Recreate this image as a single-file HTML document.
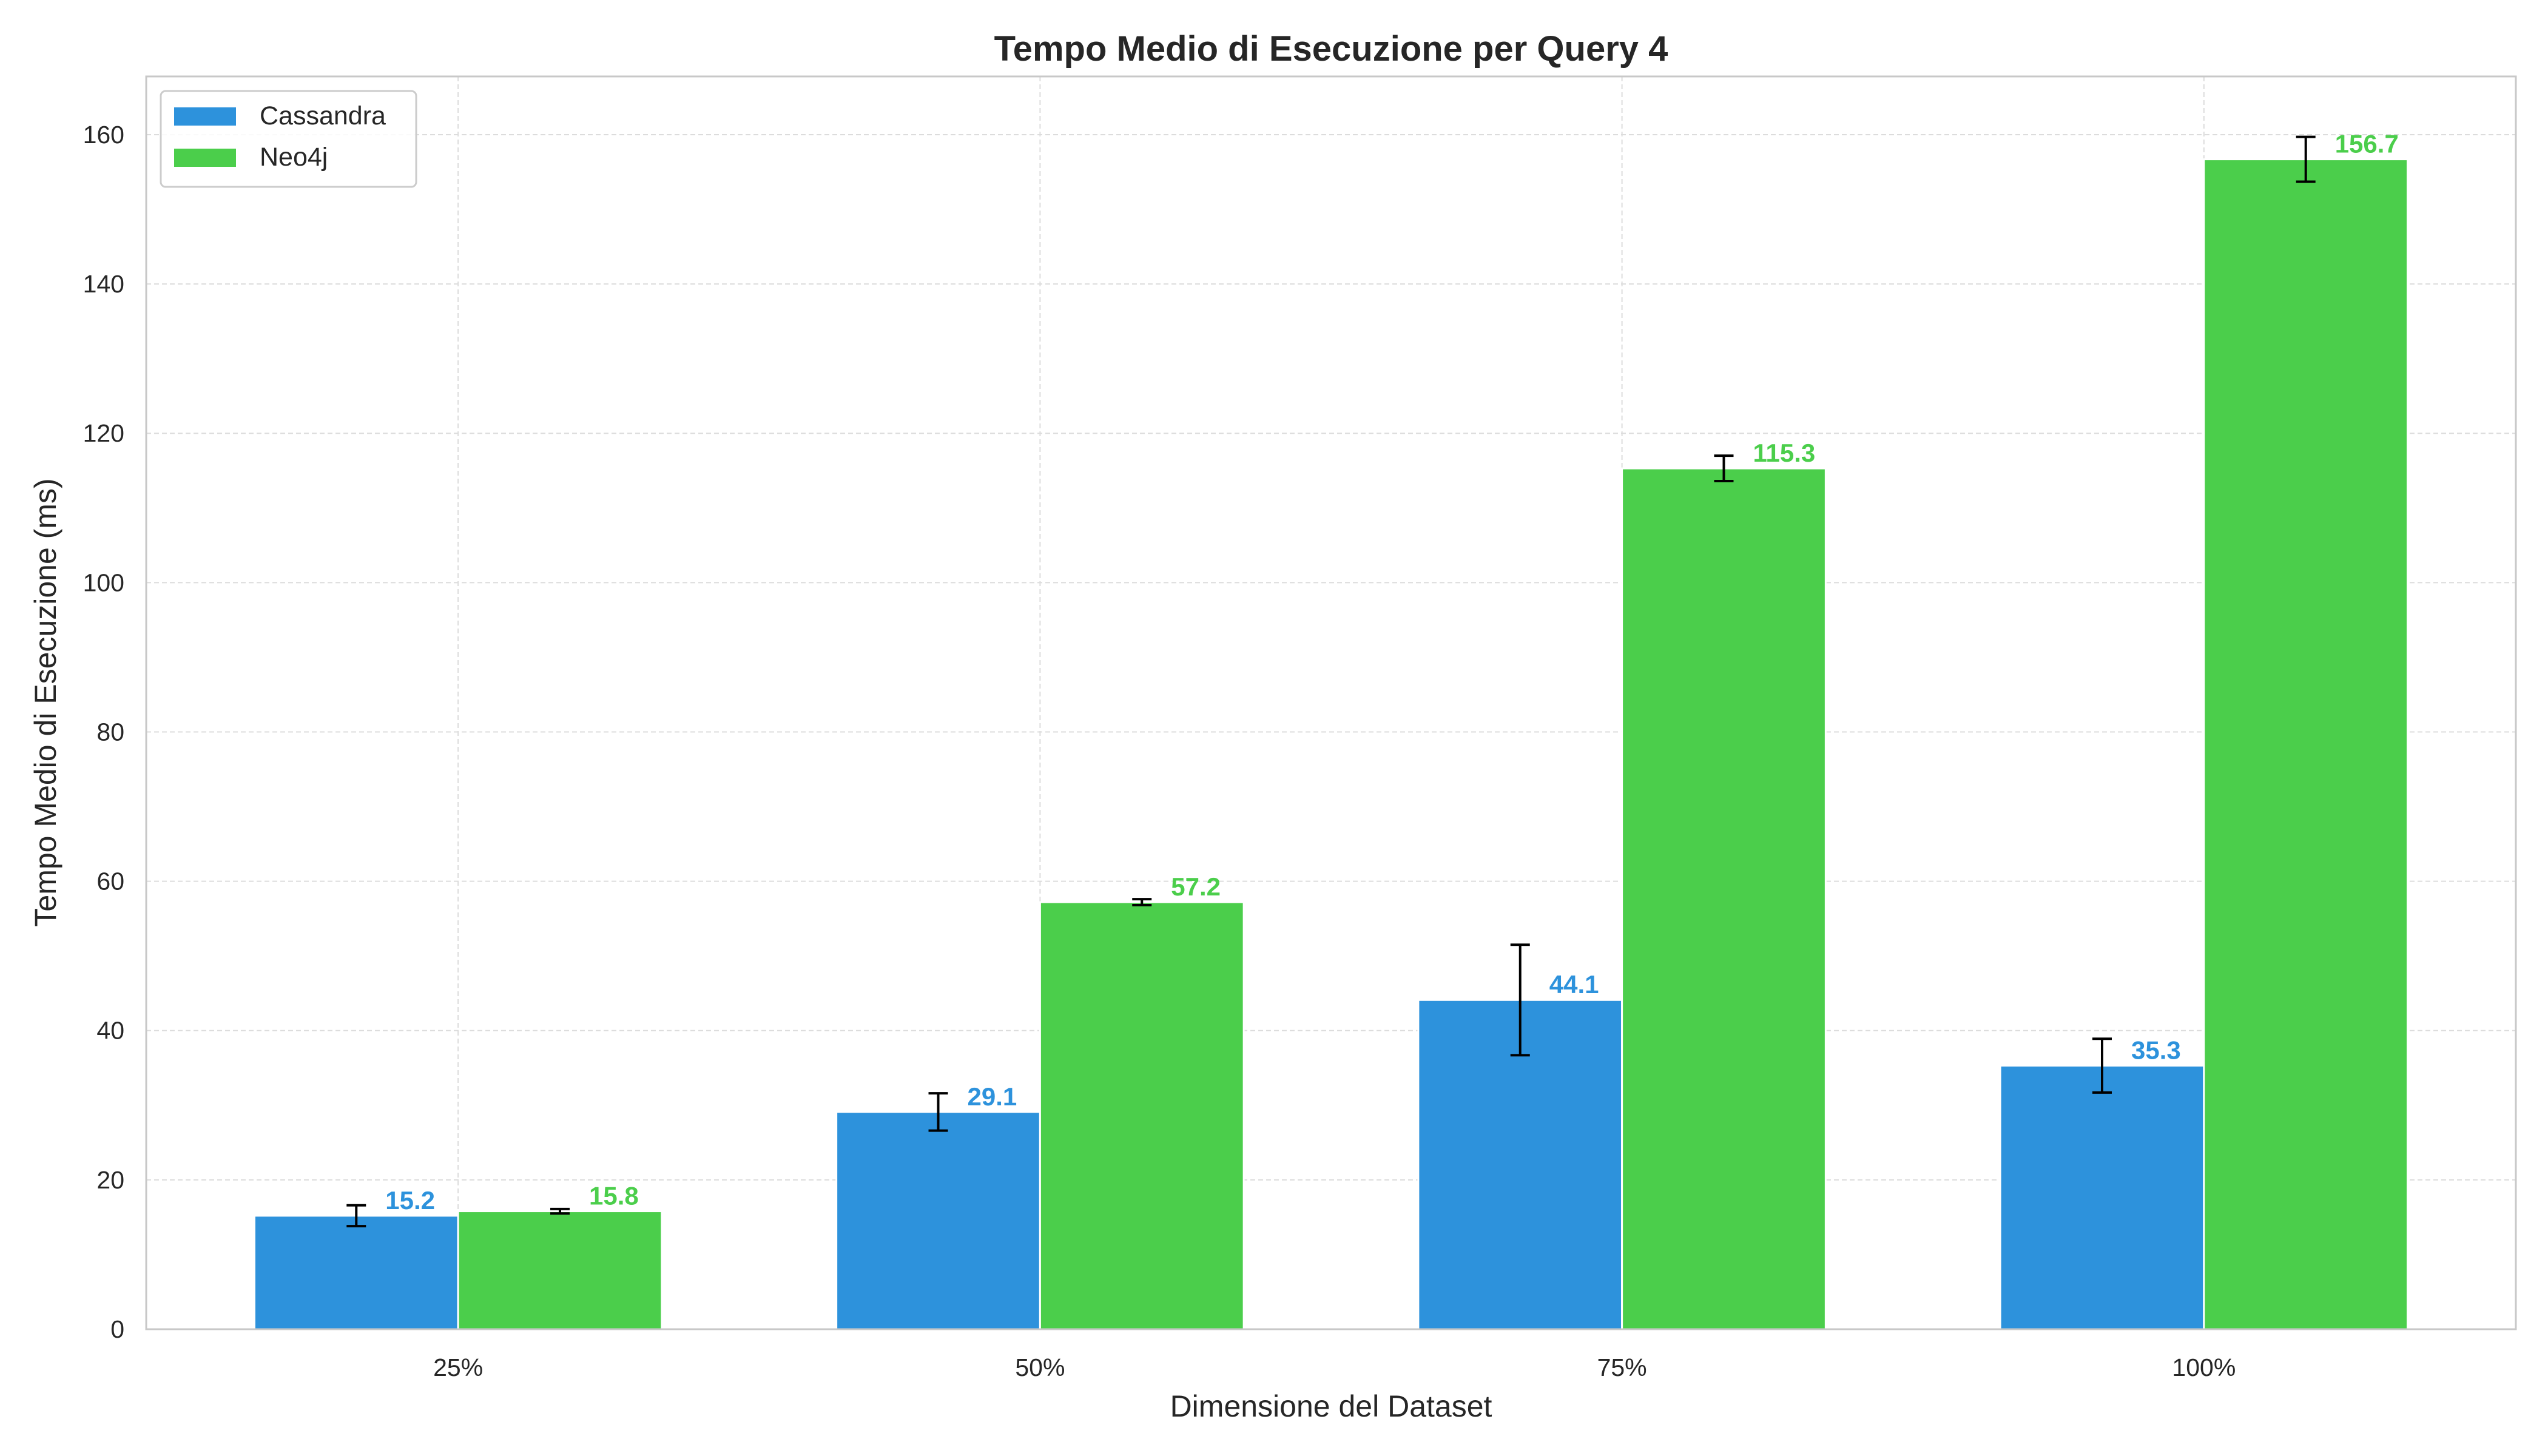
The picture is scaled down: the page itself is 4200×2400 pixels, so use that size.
<!DOCTYPE html>
<html><head><meta charset="utf-8"><style>
html,body{margin:0;padding:0;background:#fff}
svg{display:block;font-family:"Liberation Sans",Arial,sans-serif}
</style></head><body>
<svg id="chart" width="4200" height="2400" viewBox="0 0 4200 2400" xmlns="http://www.w3.org/2000/svg">
<rect width="4200" height="2400" fill="#fff"/>
<g id="grid"></g>
<g id="bars"></g>
<g id="axes"></g>
<text x="2194" y="100" text-anchor="middle" font-size="58" font-weight="bold" fill="#262626">Tempo Medio di Esecuzione per Query 4</text>
<text x="2194" y="2335" text-anchor="middle" font-size="50" fill="#262626">Dimensione del Dataset</text>
<text x="0" y="0" transform="translate(92,1158) rotate(-90)" text-anchor="middle" font-size="50" fill="#262626">Tempo Medio di Esecuzione (ms)</text>
<g>
<rect x="265" y="150" width="421" height="158" rx="8" fill="#fff" fill-opacity="0.85" stroke="#ccc" stroke-width="3"/>
<rect x="287" y="177" width="102" height="30" fill="#2d92dc"/>
<text x="428" y="205" font-size="43" fill="#262626">Cassandra</text>
<rect x="287" y="245" width="102" height="30" fill="#4bce4b"/>
<text x="428" y="273" font-size="43" fill="#262626">Neo4j</text>
</g>
</svg>
<script>
const categories = ["25%","50%","75%","100%"];
const cassandra = [15.2, 29.1, 44.1, 35.3];
const cassandraErr = [1.4, 2.5, 7.4, 3.6];
const neo4j = [15.8, 57.2, 115.3, 156.7];
const neo4jErr = [0.3, 0.4, 1.7, 3.0];
const yTicks = [0,20,40,60,80,100,120,140,160];

const NS="http://www.w3.org/2000/svg";
const L=241,R=4147,T=126,B=2191;
const xmin=-0.536,xmax=3.536,ymax=167.8;
const xs=v=>L+(v-xmin)/(xmax-xmin)*(R-L);
const ys=v=>B-v/ymax*(B-T);
function mk(p,tag,at){const e=document.createElementNS(NS,tag);for(const k in at)e.setAttribute(k,at[k]);p.appendChild(e);return e;}
const grid=document.getElementById('grid'),bars=document.getElementById('bars'),axes=document.getElementById('axes');
yTicks.forEach(t=>{
  const g=mk(grid,'line',{x1:L,x2:R,y1:ys(t),y2:ys(t),stroke:'#dcdcdc','stroke-width':2,'stroke-dasharray':'8,5'});
  
  
  const tx=mk(axes,'text',{x:L-36,y:ys(t)+14,'text-anchor':'end','font-size':41,fill:'#262626'});
  tx.textContent=t;
  
  
});
categories.forEach((c,i)=>{
  const g=mk(grid,'line',{x1:xs(i),x2:xs(i),y1:T,y2:B,stroke:'#dcdcdc','stroke-width':2,'stroke-dasharray':'8,5'});
  
  
  const tx=mk(axes,'text',{x:xs(i),y:2268,'text-anchor':'middle','font-size':41,fill:'#262626'});
  tx.textContent=c;
  
  
});
const w=0.35;
function series(vals,errs,off,color,name){
  vals.forEach((v,i)=>{
    const x0=xs(i+off-w/2),x1=xs(i+off+w/2),cx=xs(i+off);
    const r=mk(bars,'rect',{x:x0,y:ys(v),width:x1-x0,height:ys(0)-ys(v),fill:color,stroke:'#fff','stroke-width':3});
    
    
    const e=errs[i],eg=mk(bars,'g',{stroke:'#000','stroke-width':4});
    
    
    mk(eg,'line',{x1:cx,x2:cx,y1:ys(v-e),y2:ys(v+e)});
    mk(eg,'line',{x1:cx-16,x2:cx+16,y1:ys(v-e),y2:ys(v-e)});
    mk(eg,'line',{x1:cx-16,x2:cx+16,y1:ys(v+e),y2:ys(v+e)});
    const t=mk(bars,'text',{x:cx+48,y:ys(v+0.9),'font-size':42,'font-weight':'bold',fill:color});
    t.textContent=v.toFixed(1);
    
    
  });
}
series(cassandra,cassandraErr,-w/2,'#2d92dc','cassandra');
series(neo4j,neo4jErr,w/2,'#4bce4b','neo4j');
const fr=mk(axes,'rect',{x:L,y:T,width:R-L,height:B-T,fill:'none',stroke:'#c8c8c8','stroke-width':3});


</script>
</body></html>
